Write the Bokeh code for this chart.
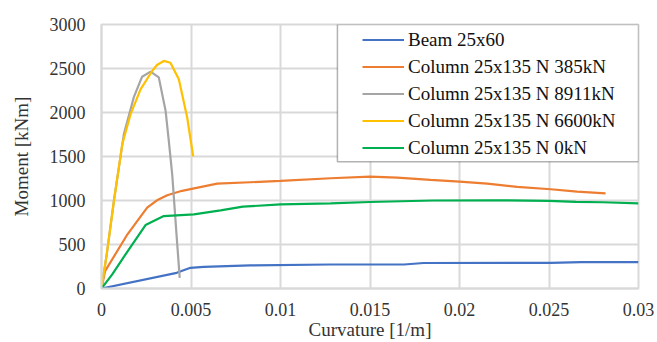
from bokeh.plotting import figure
from bokeh.models import Range1d, FixedTicker, Legend, LegendItem, BoxAnnotation
from bokeh.embed import file_html
from bokeh.resources import INLINE

# ---- data ----
curv_beam = [0, 0.0042, 0.00497, 0.00571, 0.0083, 0.0128, 0.0169, 0.018, 0.0251, 0.0268, 0.03]
m_beam = [0, 178, 235, 246, 262, 273, 273, 290, 292, 300, 300]

curv_385 = [0, 0.0002, 0.0014, 0.00255, 0.0031, 0.00367, 0.0045, 0.00646, 0.01, 0.0128, 0.015,
            0.01652, 0.01838, 0.02, 0.02155, 0.02322, 0.0251, 0.02657, 0.02816]
m_385 = [0, 197, 600, 918, 1002, 1059, 1110, 1191, 1222, 1253, 1271,
         1260, 1234, 1214, 1191, 1154, 1128, 1100, 1082]

curv_8911 = [0, 0.0003, 0.00069, 0.00125, 0.0018, 0.00227, 0.00274, 0.0032, 0.00358, 0.00376,
             0.00395, 0.00419, 0.00437]
m_8911 = [0, 400, 994, 1754, 2171, 2407, 2464, 2399, 2020, 1678, 1298, 615, 121]

curv_6600 = [0, 0.0003, 0.0007, 0.00116, 0.00162, 0.00218, 0.00283, 0.0031, 0.00348, 0.00385,
             0.00432, 0.00479, 0.00512]
m_6600 = [0, 400, 1000, 1640, 1978, 2263, 2472, 2540, 2586, 2566, 2377, 1940, 1503]

curv_0 = [0, 0.0006, 0.00125, 0.00246, 0.00348, 0.00516, 0.00665, 0.0079, 0.01, 0.0128, 0.015,
          0.0185, 0.022, 0.025, 0.0265, 0.028, 0.03]
m_0 = [0, 160, 360, 721, 823, 843, 888, 930, 955, 968, 983, 1000, 1002, 996, 985, 980, 968]

series_names = ["Beam 25x60", "Column 25x135 N 385kN", "Column 25x135 N 8911kN",
                "Column 25x135 N 6600kN", "Column 25x135 N 0kN"]
series_colors = ["#4472C4", "#ED7D31", "#A5A5A5", "#FFC000", "#00B050"]

x_ticks = [0, 0.005, 0.01, 0.015, 0.02, 0.025, 0.03]
x_tick_labels = ["0", "0.005", "0.01", "0.015", "0.02", "0.025", "0.03"]
y_ticks = [0, 500, 1000, 1500, 2000, 2500, 3000]
x_title = "Curvature [1/m]"
y_title = "Moment [kNm]"

FONT = "Liberation Serif"
GRID = "#D9D9D9"

p = figure(width=657, height=342, output_backend="svg", toolbar_location=None,
           x_range=Range1d(0, 0.03), y_range=Range1d(0, 3000),
           min_border_left=101, min_border_right=19, min_border_top=24, min_border_bottom=54)
p.background_fill_color = "white"
p.border_fill_color = "white"
p.outline_line_color = GRID
p.outline_line_width = 2

for ax in (p.xaxis[0], p.yaxis[0]):
    ax.axis_line_color = GRID
    ax.axis_line_width = 2
    ax.major_tick_line_color = None
    ax.minor_tick_line_color = None
    ax.major_tick_in = 0
    ax.major_tick_out = 0
    ax.minor_tick_in = 0
    ax.minor_tick_out = 0
    ax.major_label_text_font = FONT
    ax.major_label_text_font_size = "18px"
    ax.major_label_text_color = "#333333"
    ax.axis_label_text_font = FONT
    ax.axis_label_text_font_size = "19px"
    ax.axis_label_text_font_style = "normal"
    ax.axis_label_text_color = "#333333"

p.xaxis.ticker = FixedTicker(ticks=x_ticks)
p.xaxis.major_label_overrides = {t: l for t, l in zip(x_ticks, x_tick_labels)}
p.yaxis.ticker = FixedTicker(ticks=y_ticks)
p.xaxis.axis_label = x_title
p.yaxis.axis_label = y_title
p.xaxis.major_label_standoff = 14
p.xaxis.axis_label_standoff = 0
p.yaxis.major_label_standoff = 16
p.yaxis.axis_label_standoff = 15

p.grid.grid_line_color = GRID
p.grid.grid_line_width = 2

xs = [curv_beam, curv_385, curv_8911, curv_6600, curv_0]
ys = [m_beam, m_385, m_8911, m_6600, m_0]
items = []
for x, y, name, col in zip(xs, ys, series_names, series_colors):
    r = p.line(x, y, line_color=col, line_width=2.2)
    items.append(LegendItem(label=name, renderers=[r]))

box = BoxAnnotation(left=0.01318, right=0.03, bottom=1440, top=3000,
                    fill_color="white", fill_alpha=1.0,
                    line_color="black", line_width=1.5)
p.add_layout(box)

legend = Legend(items=items, location=(261, 127), orientation="vertical",
                padding=0, spacing=0, margin=0,
                label_height=27, glyph_height=27, glyph_width=42, label_standoff=4,
                label_text_font=FONT, label_text_font_size="19px", label_text_color="#111111",
                border_line_alpha=0, background_fill_alpha=0)
p.add_layout(legend, "center")

open("out.html", "w").write(file_html(p, INLINE))
